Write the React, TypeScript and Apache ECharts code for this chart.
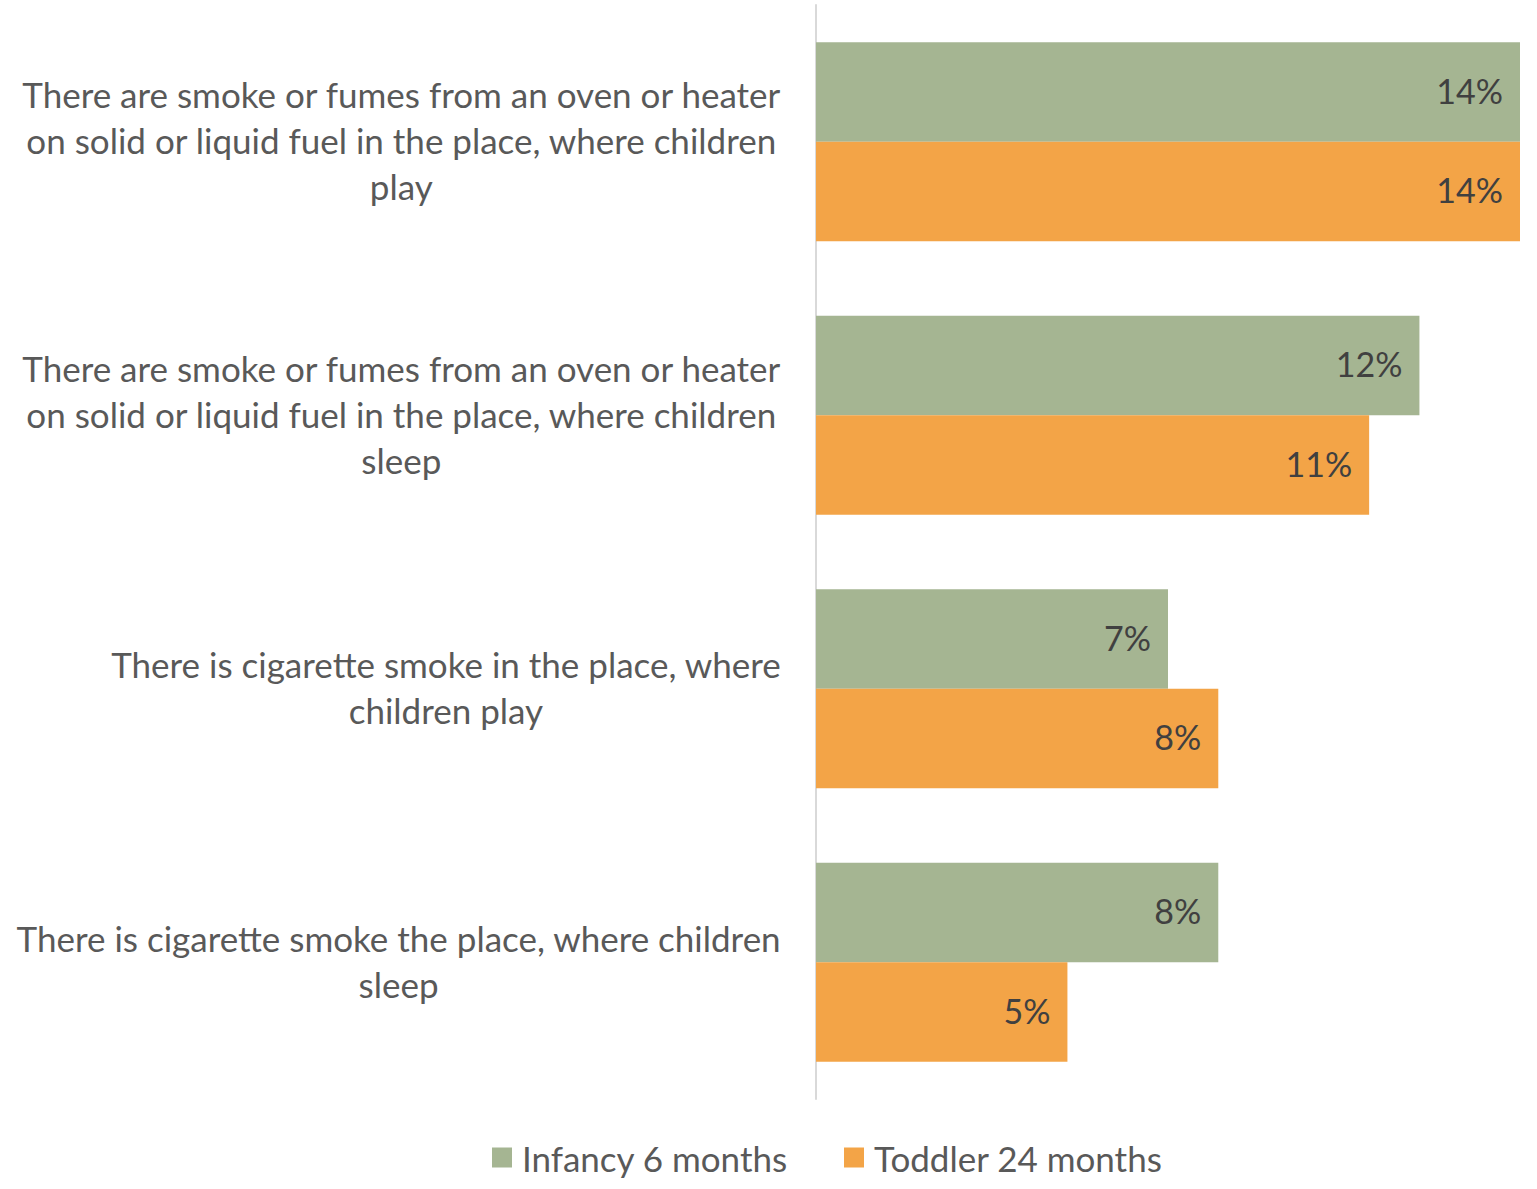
import React, { useEffect, useRef } from "react";
import * as echarts from "echarts";

const categories = [
  "There are smoke or fumes from an oven or heater\non solid or liquid fuel in the place, where children\nplay",
  "There are smoke or fumes from an oven or heater\non solid or liquid fuel in the place, where children\nsleep",
  "There is cigarette smoke in the place, where\nchildren play",
  "There is cigarette smoke the place, where children\nsleep",
];
const seriesNames = ["Infancy 6 months", "Toddler 24 months"];
const infancy = [14, 12, 7, 8];
const toddler = [14, 11, 8, 5];
const colors = ["#A5B592", "#F3A447"];
const FONT = "Lato";
const FS = 35;

export default function App() {
  const ref = useRef<HTMLDivElement>(null);
  useEffect(() => {
    document.body.style.margin = "0";
    const chart = echarts.init(ref.current!, null, { renderer: "svg" });
    const label = {
      show: true,
      position: "insideRight",
      distance: 17,
      formatter: (p: any) => `${p.value}%`,
      color: "#404040",
      fontSize: 34,
      fontFamily: FONT,
      offset: [0, -2],
    };
    chart.setOption({
      animation: false,
      color: colors,
      grid: { left: 816, right: 17, top: 5, bottom: 90, containLabel: false },
      legend: {
        top: 1135,
        left: 487,
        itemWidth: 20,
        itemHeight: 20,
        itemGap: 56,
        icon: "rect",
        data: seriesNames,
        textStyle: { color: "#595959", fontSize: FS, fontFamily: FONT, padding: [0, 0, 0, 5] },
      },
      xAxis: {
        type: "value",
        min: 0,
        max: 14,
        show: false,
      },
      yAxis: {
        type: "category",
        inverse: true,
        data: categories,
        axisLine: { show: true, lineStyle: { color: "#D9D9D9", width: 2 } },
        axisTick: { show: false },
        axisLabel: {
          margin: 35,
          align: "right",
          fontFamily: FONT,
          fontSize: FS,
          color: "#595959",
          lineHeight: 46,
          formatter: (v: string) =>
            v
              .split("\n")
              .map((l) => `{c|${l}}`)
              .join("\n"),
          rich: {
            c: { align: "center", fontFamily: FONT, fontSize: FS, color: "#595959", lineHeight: 46, padding: [0, 0, 3, 0] },
          },
        },
      },
      series: [
        { name: seriesNames[0], type: "bar", data: infancy, barWidth: 99.5, barGap: "0%", label },
        { name: seriesNames[1], type: "bar", data: toddler, barWidth: 99.5, barGap: "0%", label },
      ],
    });
    return () => chart.dispose();
  }, []);
  return <div ref={ref} style={{ width: 1537, height: 1189 }} />;
}
